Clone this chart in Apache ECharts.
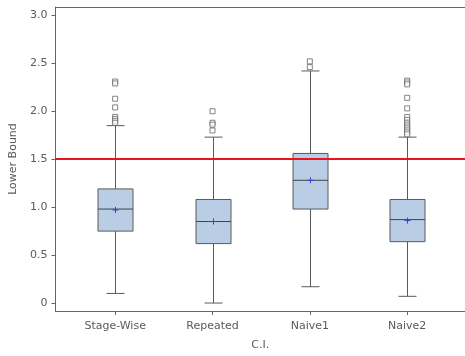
<!DOCTYPE html>
<html>
<head>
<meta charset="utf-8">
<script src="https://cdn.jsdelivr.net/npm/echarts@6/dist/echarts.min.js"></script>
<style>
html,body{margin:0;padding:0;background:#fff;}
#chart{width:465px;height:356px;}
</style>
</head>
<body>
<div id="chart"></div>
<script>
var categories = ['Stage-Wise', 'Repeated', 'Naive1', 'Naive2'];
var whiskerLow  = [0.10, 0.00, 0.17, 0.07];
var q1          = [0.75, 0.62, 0.98, 0.64];
var median      = [0.98, 0.85, 1.28, 0.87];
var q3          = [1.19, 1.08, 1.56, 1.08];
var whiskerHigh = [1.85, 1.73, 2.42, 1.73];
var mean        = [0.97, 0.85, 1.28, 0.86];
var outliers = [
  [2.31, 2.29, 2.13, 2.04, 1.94, 1.92, 1.90, 1.88],
  [2.00, 1.88, 1.86, 1.80],
  [2.52, 2.46],
  [2.32, 2.30, 2.28, 2.14, 2.03, 1.94, 1.91, 1.88, 1.86, 1.84, 1.82, 1.80, 1.78, 1.76]
];
var yTicks = [0, 0.5, 1.0, 1.5, 2.0, 2.5, 3.0];
var refLine = 1.5;

var boxData = categories.map(function (c, i) {
  return [i + 1, whiskerLow[i], q1[i], median[i], q3[i], whiskerHigh[i], mean[i]];
});
var outlierData = [];
outliers.forEach(function (arr, i) {
  arr.forEach(function (v) { outlierData.push([i + 1, v]); });
});

var grey = '#5a5a5a';
var chart = echarts.init(document.getElementById('chart'));
var fontFam = '"DejaVu Sans", sans-serif';

chart.setOption({
  animation: false,
  grid: { left: 54, right: 0, top: 7, bottom: 44 },
  xAxis: [{
    type: 'value', min: 0.386, max: 4.594,
    name: 'C.I.', nameLocation: 'middle', nameGap: 29,
    nameTextStyle: { color: grey, fontSize: 11, fontFamily: fontFam },
    axisLine: { show: true, onZero: false, lineStyle: { color: '#666', width: 1 } },
    axisTick: { show: true, length: 4, customValues: [1, 2, 3, 4], lineStyle: { color: '#666' } },
    axisLabel: {
      customValues: [1, 2, 3, 4], margin: 10, color: grey, fontSize: 11, fontFamily: fontFam,
      formatter: function (v) { return categories[Math.round(v) - 1]; }
    },
    splitLine: { show: false }
  }, {
    type: 'value', position: 'top', min: 0.386, max: 4.594,
    axisLine: { show: true, onZero: false, lineStyle: { color: '#666', width: 1 } },
    axisTick: { show: false }, axisLabel: { show: false }, splitLine: { show: false }
  }],
  yAxis: {
    type: 'value', min: -0.083, max: 3.087,
    name: 'Lower Bound', nameLocation: 'middle', nameGap: 32,
    nameTextStyle: { color: grey, fontSize: 11, fontFamily: fontFam },
    axisLine: { show: true, onZero: false, lineStyle: { color: '#666', width: 1 } },
    axisTick: { show: true, length: 4, customValues: yTicks, lineStyle: { color: '#666' } },
    axisLabel: {
      customValues: yTicks, margin: 8, color: grey, fontSize: 11, fontFamily: fontFam,
      formatter: function (v) { return v === 0 ? '0' : v.toFixed(1); }
    },
    splitLine: { show: false }
  },
  series: [{
    type: 'custom',
    data: boxData,
    renderItem: function (params, api) {
      var x = api.value(0);
      var pLo = api.coord([x, api.value(1)]);
      var pQ1 = api.coord([x, api.value(2)]);
      var pMed = api.coord([x, api.value(3)]);
      var pQ3 = api.coord([x, api.value(4)]);
      var pHi = api.coord([x, api.value(5)]);
      var pMean = api.coord([x, api.value(6)]);
      var cx = Math.round(pMed[0]) + 0.5;
      var hw = 17.5, cw = 9, mw = 3;
      var ls = { stroke: grey, lineWidth: 1 };
      return {
        type: 'group',
        children: [
          { type: 'line', shape: { x1: cx, y1: pHi[1], x2: cx, y2: pQ3[1] }, style: ls },
          { type: 'line', shape: { x1: cx, y1: pQ1[1], x2: cx, y2: pLo[1] }, style: ls },
          { type: 'line', shape: { x1: cx - cw, y1: pHi[1], x2: cx + cw, y2: pHi[1] }, style: ls },
          { type: 'line', shape: { x1: cx - cw, y1: pLo[1], x2: cx + cw, y2: pLo[1] }, style: ls },
          { type: 'rect', shape: { x: cx - hw, y: pQ3[1], width: 2 * hw, height: pQ1[1] - pQ3[1] },
            style: { fill: '#b9cde5', stroke: grey, lineWidth: 1 } },
          { type: 'line', shape: { x1: cx - hw, y1: pMed[1], x2: cx + hw, y2: pMed[1] }, style: { stroke: '#444', lineWidth: 1 } },
          { type: 'line', shape: { x1: cx - mw, y1: pMean[1], x2: cx + mw, y2: pMean[1] }, style: { stroke: '#3344cc', lineWidth: 1 } },
          { type: 'line', shape: { x1: cx, y1: pMean[1] - mw, x2: cx, y2: pMean[1] + mw }, style: { stroke: '#3344cc', lineWidth: 1 } }
        ]
      };
    }
  }, {
    type: 'scatter',
    data: outlierData,
    symbol: 'rect',
    symbolSize: 5,
    itemStyle: { color: '#fff', borderColor: '#666', borderWidth: 1 },
    markLine: {
      silent: true, symbol: 'none', label: { show: false },
      lineStyle: { color: '#e8161b', width: 2, type: 'solid' },
      data: [{ yAxis: refLine }]
    },
    z: 3
  }]
});
</script>
</body>
</html>
